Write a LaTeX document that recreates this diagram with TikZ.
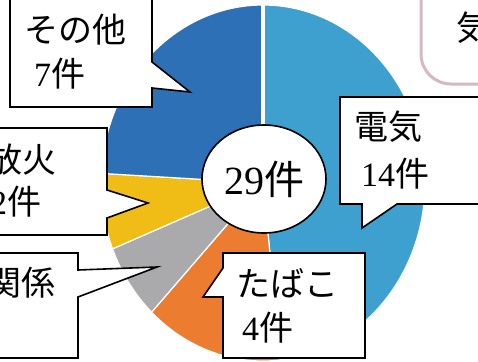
\documentclass[tikz,border=0pt]{standalone}
\usepackage{fontspec}
\setmainfont{Noto Sans CJK JP}
\newfontfamily\numfont{Liberation Serif}
\usepackage{tikz}
\usetikzlibrary{shapes.geometric}
\definecolor{elec}{RGB}{62,160,206}
\definecolor{other}{RGB}{46,112,182}
\definecolor{arson}{RGB}{240,188,22}
\definecolor{grayslice}{RGB}{170,170,172}
\definecolor{smoke}{RGB}{236,124,48}
\definecolor{frame-pink}{RGB}{214,184,194}
\tikzset{
    call-box/.style = {draw=black, line width=1.6pt, fill=white, line join=miter},
    call-text/.style = {font=\fontsize{34}{40}\selectfont, inner sep=0pt, anchor=base west},
    pie-slice/.style = {draw=white, line width=1.2pt},
}
\newcommand{\pieslice}[3]{%
  \filldraw[pie-slice, fill=#3] (263,-183) -- ++(#1:162 and 178)
    arc[start angle=#1, end angle=#2, x radius=162, y radius=178] -- cycle;}

\begin{document}
\begin{tikzpicture}[x=1pt, y=1pt]
\useasboundingbox (0,0) rectangle (478,-361);
\clip (0,0) rectangle (478,-361);
\fill[white] (0,0) rectangle (478,-361);

\pieslice{90}{-83.79}{elec}
\pieslice{-83.79}{-133.45}{smoke}
\pieslice{-133.45}{-158.28}{grayslice}
\pieslice{-158.28}{-183.10}{arson}
\pieslice{-183.10}{-270}{other}
\draw[white, line width=3.5pt] (263,-183) -- (263,8);

\node[draw=black, line width=1.6pt, fill=white, ellipse, inner sep=0pt,
      minimum width=124pt, minimum height=108pt,
      font=\fontsize{40}{40}\selectfont] (total) at (264,-179) {{\numfont 29}件};

% callouts
\draw[call-box] (10,8) -- (10,-107) -- (152,-107) -- (152,-88) -- (190,-92)
    -- (152,-62) -- (152,8);
\draw[call-box] (-5,-128) -- (107,-128) -- (107,-190) -- (148,-203)
    -- (107,-218) -- (107,-235) -- (-5,-235);
\draw[call-box] (-5,-253) -- (78,-253) -- (78,-270) -- (157,-267)
    -- (78,-297) -- (78,-358) -- (-5,-358);
\draw[call-box] (340,-97) -- (490,-97) -- (490,-204) -- (397,-204)
    -- (362,-228) -- (362,-204) -- (340,-204) -- cycle;
\draw[call-box] (223,-253) -- (365,-253) -- (365,-358) -- (223,-358)
    -- (223,-297) -- (203,-297) -- (223,-268) -- cycle;

\draw[frame-pink, line width=3pt, rounded corners=30pt] (421,8) -- (421,-84) -- (490,-84);

\node[call-text] (other-name) at (24,-42) {その他};
\node[call-text] (other-num) at (34,-86) {{\numfont 7}件};
\node[call-text] (arson-name) at (-12,-172) {放火};
\node[call-text] (arson-num) at (-10,-214) {{\numfont 2}件};
\node[call-text, anchor=base east] (gray-name) at (56,-295) {関係};
\node[call-text] (elec-name) at (354,-139) {電気};
\node[call-text] (elec-num) at (361,-186) {{\numfont 14}件};
\node[call-text] (smoke-name) at (236,-296) {たばこ};
\node[call-text] (smoke-num) at (242,-340) {{\numfont 4}件};
\node[call-text] (frame-text) at (456,-41) {気};
\end{tikzpicture}
\end{document}
